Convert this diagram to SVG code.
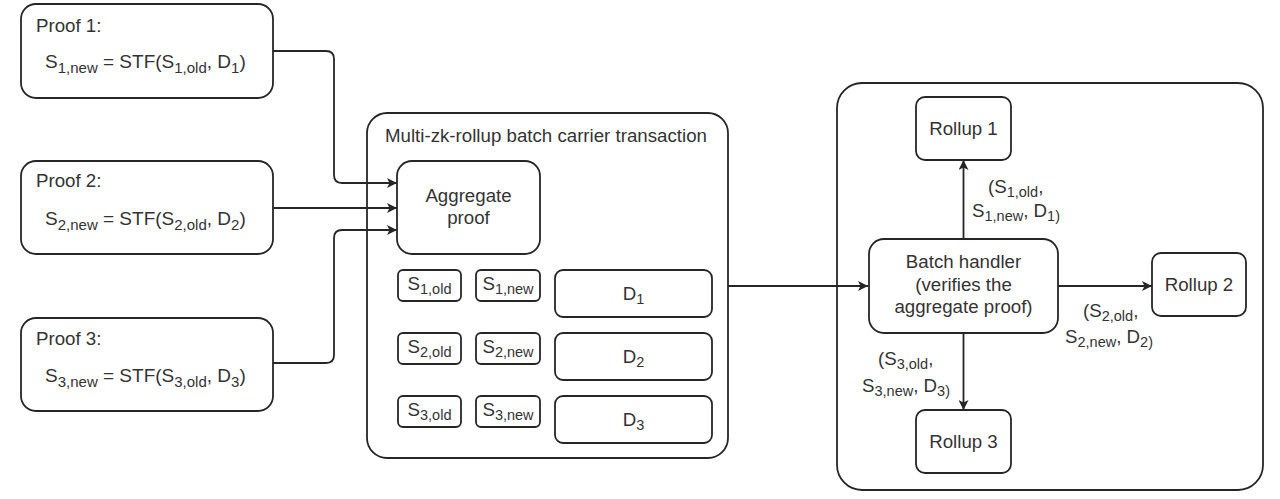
<svg xmlns="http://www.w3.org/2000/svg" width="1280" height="499" viewBox="0 0 1280 499">
<style>
.b{fill:#fff;stroke:#262626;stroke-width:1.8}
.c{fill:none;stroke:#262626;stroke-width:1.8}
text{font-family:"Liberation Sans",Arial,sans-serif;font-size:18.7px;fill:#333}
.m{text-anchor:middle}
.s{font-size:14.5px}
.f{font-size:19px}
.fs{font-size:15px}
</style>
<defs>
<marker id="a" viewBox="0 0 10 10" refX="10" refY="5" markerWidth="11" markerHeight="10" markerUnits="userSpaceOnUse" orient="auto">
<path d="M0,0 L10,5 L0,10 L2.5,5 Z" fill="#262626"/>
</marker>
</defs>
<rect width="1280" height="499" fill="#fff"/>

<g id="proof1">
<rect class="b" x="21" y="4" width="252" height="94" rx="15"/>
<text x="36" y="32">Proof 1:</text>
<text class="f" x="45" y="68">S<tspan class="fs" dy="5">1,new</tspan><tspan dy="-5"> = STF(S</tspan><tspan class="fs" dy="5">1,old</tspan><tspan dy="-5">, D</tspan><tspan class="fs" dy="5">1</tspan><tspan dy="-5">)</tspan></text>
</g>
<g id="proof2">
<rect class="b" x="21" y="161" width="252" height="93" rx="15"/>
<text x="36" y="187">Proof 2:</text>
<text class="f" x="45" y="225">S<tspan class="fs" dy="5">2,new</tspan><tspan dy="-5"> = STF(S</tspan><tspan class="fs" dy="5">2,old</tspan><tspan dy="-5">, D</tspan><tspan class="fs" dy="5">2</tspan><tspan dy="-5">)</tspan></text>
</g>
<g id="proof3">
<rect class="b" x="21" y="318" width="252" height="93" rx="15"/>
<text x="36" y="345">Proof 3:</text>
<text class="f" x="45" y="382">S<tspan class="fs" dy="5">3,new</tspan><tspan dy="-5"> = STF(S</tspan><tspan class="fs" dy="5">3,old</tspan><tspan dy="-5">, D</tspan><tspan class="fs" dy="5">3</tspan><tspan dy="-5">)</tspan></text>
</g>

<g id="carrier">
<rect class="b" x="367" y="113" width="361" height="345" rx="20"/>
<text x="385" y="142">Multi-zk-rollup batch carrier transaction</text>
</g>
<g id="aggregate">
<rect class="b" x="397" y="161" width="143" height="93" rx="15"/>
<text class="m" x="468.5" y="202">Aggregate</text>
<text class="m" x="468.5" y="224">proof</text>
</g>
<g id="s1old"><rect class="b" x="398" y="270" width="63" height="31" rx="5"/><text class="m" x="429.5" y="290">S<tspan class="s" dy="4">1,old</tspan></text></g>
<g id="s1new"><rect class="b" x="476" y="270" width="64" height="31" rx="5"/><text class="m" x="508" y="290">S<tspan class="s" dy="4">1,new</tspan></text></g>
<g id="d1"><rect class="b" x="555" y="270" width="157" height="47" rx="8"/><text class="m" x="633.5" y="300">D<tspan class="s" dy="4">1</tspan></text></g>
<g id="s2old"><rect class="b" x="398" y="333" width="63" height="31" rx="5"/><text class="m" x="429.5" y="353">S<tspan class="s" dy="4">2,old</tspan></text></g>
<g id="s2new"><rect class="b" x="476" y="333" width="64" height="31" rx="5"/><text class="m" x="508" y="353">S<tspan class="s" dy="4">2,new</tspan></text></g>
<g id="d2"><rect class="b" x="555" y="333" width="157" height="47" rx="8"/><text class="m" x="633.5" y="363">D<tspan class="s" dy="4">2</tspan></text></g>
<g id="s3old"><rect class="b" x="398" y="396" width="63" height="31" rx="5"/><text class="m" x="429.5" y="416">S<tspan class="s" dy="4">3,old</tspan></text></g>
<g id="s3new"><rect class="b" x="476" y="396" width="64" height="31" rx="5"/><text class="m" x="508" y="416">S<tspan class="s" dy="4">3,new</tspan></text></g>
<g id="d3"><rect class="b" x="555" y="396" width="157" height="47" rx="8"/><text class="m" x="633.5" y="426">D<tspan class="s" dy="4">3</tspan></text></g>

<g id="chain">
<rect class="b" x="837" y="83" width="426" height="407" rx="25"/>
</g>
<g id="rollup1"><rect class="b" x="916" y="97" width="95" height="63" rx="9"/><text class="m" x="963.5" y="135">Rollup 1</text></g>
<g id="batch">
<rect class="b" x="869" y="239" width="189" height="94" rx="15"/>
<text class="m" x="963.5" y="268">Batch handler</text>
<text class="m" x="963.5" y="291">(verifies the</text>
<text class="m" x="963.5" y="313">aggregate proof)</text>
</g>
<g id="rollup2"><rect class="b" x="1152" y="253" width="94" height="63" rx="9"/><text class="m" x="1199" y="291">Rollup 2</text></g>
<g id="rollup3"><rect class="b" x="916" y="410" width="95" height="63" rx="9"/><text class="m" x="963.5" y="448">Rollup 3</text></g>

<g id="connectors">
<path class="c" d="M273,51 H326 Q334,51 334,59 V175 Q334,183 342,183 H397" marker-end="url(#a)"/>
<path class="c" d="M273,208 H397" marker-end="url(#a)"/>
<path class="c" d="M273,363 H326 Q334,363 334,355 V238 Q334,230 342,230 H397" marker-end="url(#a)"/>
<path class="c" d="M728,286 H868" marker-end="url(#a)"/>
<path class="c" d="M963.5,239 V160" marker-end="url(#a)"/>
<path class="c" d="M1058,286 H1152" marker-end="url(#a)"/>
<path class="c" d="M963.5,333 V410" marker-end="url(#a)"/>
<text x="988" y="193">(S<tspan class="s" dy="4">1,old</tspan><tspan dy="-4">,</tspan></text>
<text x="972" y="217">S<tspan class="s" dy="4">1,new</tspan><tspan dy="-4">, D</tspan><tspan class="s" dy="4">1)</tspan></text>
<text x="1083" y="317">(S<tspan class="s" dy="4">2,old</tspan><tspan dy="-4">,</tspan></text>
<text x="1065" y="343">S<tspan class="s" dy="4">2,new</tspan><tspan dy="-4">, D</tspan><tspan class="s" dy="4">2)</tspan></text>
<text x="878" y="365">(S<tspan class="s" dy="4">3,old</tspan><tspan dy="-4">,</tspan></text>
<text x="862" y="392">S<tspan class="s" dy="4">3,new</tspan><tspan dy="-4">, D</tspan><tspan class="s" dy="4">3)</tspan></text>
</g>
</svg>
